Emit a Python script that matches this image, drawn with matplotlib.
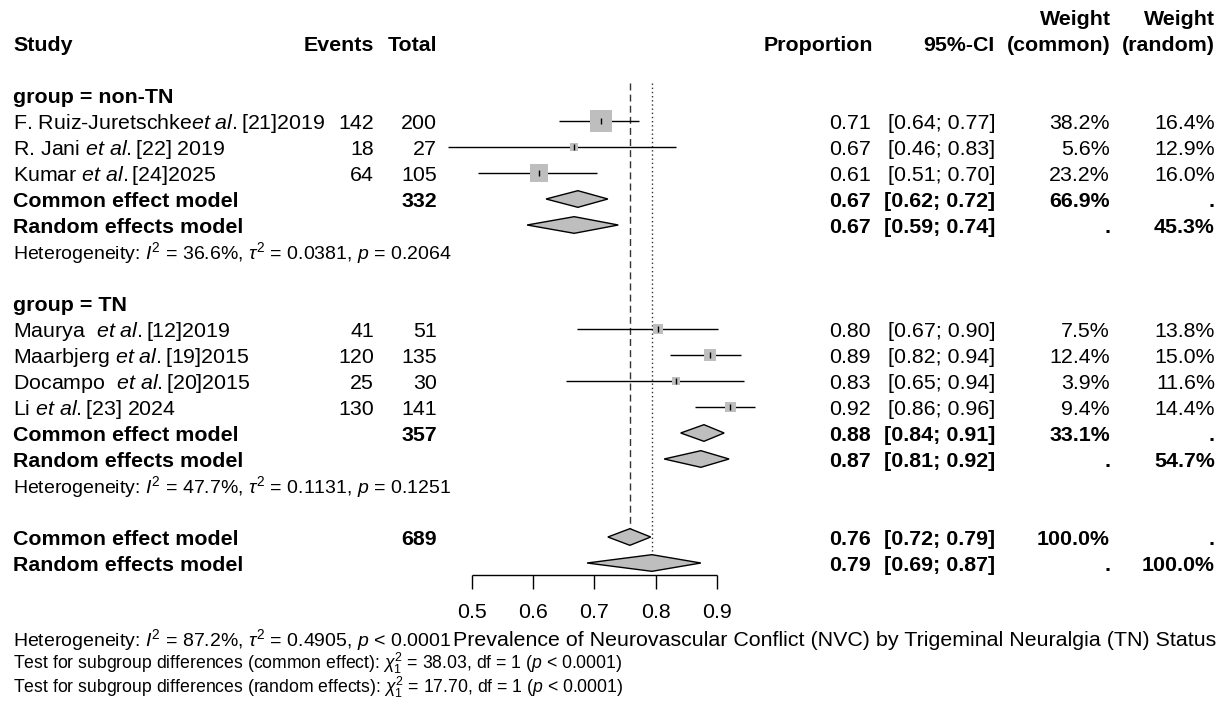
import numpy as np
import matplotlib.pyplot as plt
import matplotlib.transforms as mtransforms
from matplotlib.patches import Polygon

plt.rcParams['font.family'] = ['Liberation Sans', 'DejaVu Sans']
plt.rcParams['mathtext.fontset'] = 'custom'
plt.rcParams['mathtext.rm'] = 'Liberation Sans'
plt.rcParams['mathtext.it'] = 'Liberation Sans:italic'
plt.rcParams['mathtext.bf'] = 'Liberation Sans:bold'

# ── Data ──────────────────────────────────────────────────────────────────────
group_names = ['non-TN', 'TN']
study_group = [0, 0, 0, 1, 1, 1, 1]
study_labels = [
    r'F. Ruiz-Juretschke$\mathit{et\ al.}$[21]2019',
    r'R. Jani $\mathit{et\ al.}$[22] 2019',
    r'Kumar $\mathit{et\ al.}$[24]2025',
    r'Maurya  $\mathit{et\ al.}$[12]2019',
    r'Maarbjerg $\mathit{et\ al.}$[19]2015',
    r'Docampo  $\mathit{et\ al.}$[20]2015',
    r'Li $\mathit{et\ al.}$[23] 2024',
]
events = [142, 18, 64, 41, 120, 25, 130]
totals = [200, 27, 105, 51, 135, 30, 141]
ci_low = [0.642, 0.461, 0.510, 0.671, 0.823, 0.654, 0.864]
ci_high = [0.773, 0.834, 0.704, 0.902, 0.940, 0.944, 0.962]
w_common = [38.2, 5.6, 23.2, 7.5, 12.4, 3.9, 9.4]
w_random = [16.4, 12.9, 16.0, 13.8, 15.0, 11.6, 14.4]

# pooled estimates per group: (estimate, low, high)
grp_common = [(0.673, 0.621, 0.722), (0.879, 0.841, 0.912)]
grp_random = [(0.667, 0.590, 0.739), (0.874, 0.814, 0.920)]
grp_total = [332, 357]
grp_w_common = [66.9, 33.1]
grp_w_random = [45.3, 54.7]
grp_het = [(36.6, 0.0381, '= 0.2064'), (47.7, 0.1131, '= 0.1251')]

all_common = (0.758, 0.722, 0.792)
all_random = (0.794, 0.688, 0.874)
all_total = 689
all_het = (87.2, 0.4905, '< 0.0001')
subgroup_tests = [('common effect', 38.03), ('random effects', 17.70)]

ticks = [0.5, 0.6, 0.7, 0.8, 0.9]
title = 'Prevalence of Neurovascular Conflict (NVC) by Trigeminal Neuralgia (TN) Status'

# ── Canvas: x in proportion units, y in table rows ────────────────────────────
W, H = 1225, 708
X0, SCALE = 472, 612      # px of 0.5, px per unit
Y0, ROW = 95, 26          # px of row 0, px per row
fig = plt.figure(figsize=(W / 100, H / 100), dpi=100)
ax = fig.add_axes([0, 0, 1, 1])
ax.set_xlim(0.5 - X0 / SCALE, 0.5 + (W - X0) / SCALE)
ax.set_ylim((H - Y0) / ROW, -Y0 / ROW)
ax.axis('off')

colx = mtransforms.blended_transform_factory(fig.transFigure, ax.transData)
FS, FS_HET, FS_TEST, FS_TITLE = 15.4, 14, 12.7, 15.4
BASE = 0.32
GREY = '#BEBEBE'


def cell(px, row, s, ha='right', bold=False, size=FS):
    ax.text(px / W, row + BASE, s, transform=colx, ha=ha, va='baseline',
            fontsize=size, fontweight='bold' if bold else 'normal')


def diamond(est, lo, hi, row, h=0.32):
    ax.add_patch(Polygon([(lo, row), (est, row - h), (hi, row), (est, row + h)],
                         closed=True, facecolor=GREY, edgecolor='black', lw=1.0,
                         zorder=3))


def ci_text(est, lo, hi):
    return f'{est:.2f}', f'[{lo:.2f}; {hi:.2f}]'


# header
cell(13, -2, 'Study', ha='left', bold=True)
cell(374, -2, 'Events', bold=True)
cell(437, -2, 'Total', bold=True)
cell(873, -2, 'Proportion', bold=True)
cell(995, -2, '95%-CI', bold=True)
cell(1111, -3, 'Weight', bold=True)
cell(1111, -2, '(common)', bold=True)
cell(1215, -3, 'Weight', bold=True)
cell(1215, -2, '(random)', bold=True)

row = 0
for g, gname in enumerate(group_names):
    cell(13, row, f'group = {gname}', ha='left', bold=True)
    row += 1
    for i in [k for k, sg in enumerate(study_group) if sg == g]:
        p = events[i] / totals[i]
        ax.hlines(row, ci_low[i], ci_high[i], color='black', lw=1.0, zorder=2)
        side = 3.56 * np.sqrt(w_common[i]) * 0.72
        ax.scatter([p], [row], marker='s', s=side ** 2, color=GREY,
                   edgecolors='none', zorder=3)
        ax.plot([p], [row], marker='|', ms=5, mew=1.0, color='black', zorder=4)
        cell(13, row, study_labels[i], ha='left')
        cell(374, row, f'{events[i]}')
        cell(437, row, f'{totals[i]}')
        e, c = ci_text(p, ci_low[i], ci_high[i])
        cell(871, row, e)
        cell(995, row, c)
        cell(1110, row, f'{w_common[i]:.1f}%')
        cell(1215, row, f'{w_random[i]:.1f}%')
        row += 1
    # common effect
    est, lo, hi = grp_common[g]
    diamond(est, lo, hi, row)
    cell(13, row, 'Common effect model', ha='left', bold=True)
    cell(437, row, f'{grp_total[g]}', bold=True)
    e, c = ci_text(est, lo, hi)
    cell(871, row, e, bold=True)
    cell(995, row, c, bold=True)
    cell(1110, row, f'{grp_w_common[g]:.1f}%', bold=True)
    cell(1215, row, '.', bold=True)
    row += 1
    # random effects
    est, lo, hi = grp_random[g]
    diamond(est, lo, hi, row)
    cell(13, row, 'Random effects model', ha='left', bold=True)
    e, c = ci_text(est, lo, hi)
    cell(871, row, e, bold=True)
    cell(995, row, c, bold=True)
    cell(1110, row, '.', bold=True)
    cell(1215, row, f'{grp_w_random[g]:.1f}%', bold=True)
    row += 1
    i2, t2, pv = grp_het[g]
    cell(13, row, rf'Heterogeneity: $I^2$ = {i2:.1f}%, $\tau^2$ = {t2:.4f}, $p$ {pv}',
         ha='left', size=FS_HET)
    row += 2

# overall
est, lo, hi = all_common
diamond(est, lo, hi, row)
cell(13, row, 'Common effect model', ha='left', bold=True)
cell(437, row, f'{all_total}', bold=True)
e, c = ci_text(est, lo, hi)
cell(871, row, e, bold=True)
cell(995, row, c, bold=True)
cell(1110, row, '100.0%', bold=True)
cell(1215, row, '.', bold=True)
row_common_all = row
row += 1
est, lo, hi = all_random
diamond(est, lo, hi, row)
cell(13, row, 'Random effects model', ha='left', bold=True)
e, c = ci_text(est, lo, hi)
cell(871, row, e, bold=True)
cell(995, row, c, bold=True)
cell(1110, row, '.', bold=True)
cell(1215, row, '100.0%', bold=True)
row_random_all = row

# reference lines
top = -0.46
ax.vlines(all_common[0], top, row_common_all - 0.32, color='#333333', lw=1.0,
          linestyles=(0, (5, 3)), zorder=1)
ax.vlines(all_random[0], top, row_random_all - 0.32, color='#333333', lw=1.0,
          linestyles=(0, (1, 2)), zorder=1)

# x axis
axis_row = row_random_all + 0.46
ax.hlines(axis_row, ticks[0], ticks[-1], color='black', lw=1.0)
for t in ticks:
    ax.vlines(t, axis_row, axis_row + 0.54, color='black', lw=1.0)
    ax.text(t, axis_row + 1.45, f'{t:.1f}', ha='center', va='center', fontsize=FS)

# bottom notes
pix = lambda x, y: (x / W, 1 - y / H)
i2, t2, pv = all_het
fig.text(*pix(13, 646), rf'Heterogeneity: $I^2$ = {i2:.1f}%, $\tau^2$ = {t2:.4f}, $p$ {pv}',
         ha='left', va='baseline', fontsize=FS_HET)
fig.text(*pix(453, 646), title, ha='left', va='baseline', fontsize=FS_TITLE)
for k, (kind, chi) in enumerate(subgroup_tests):
    fig.text(*pix(13, 669 + 24 * k),
             rf'Test for subgroup differences ({kind}): $\chi^2_1$ = {chi:.2f}, df = 1 ($p$ < 0.0001)',
             ha='left', va='baseline', fontsize=FS_TEST)

fig.savefig('out.png', dpi=100)
